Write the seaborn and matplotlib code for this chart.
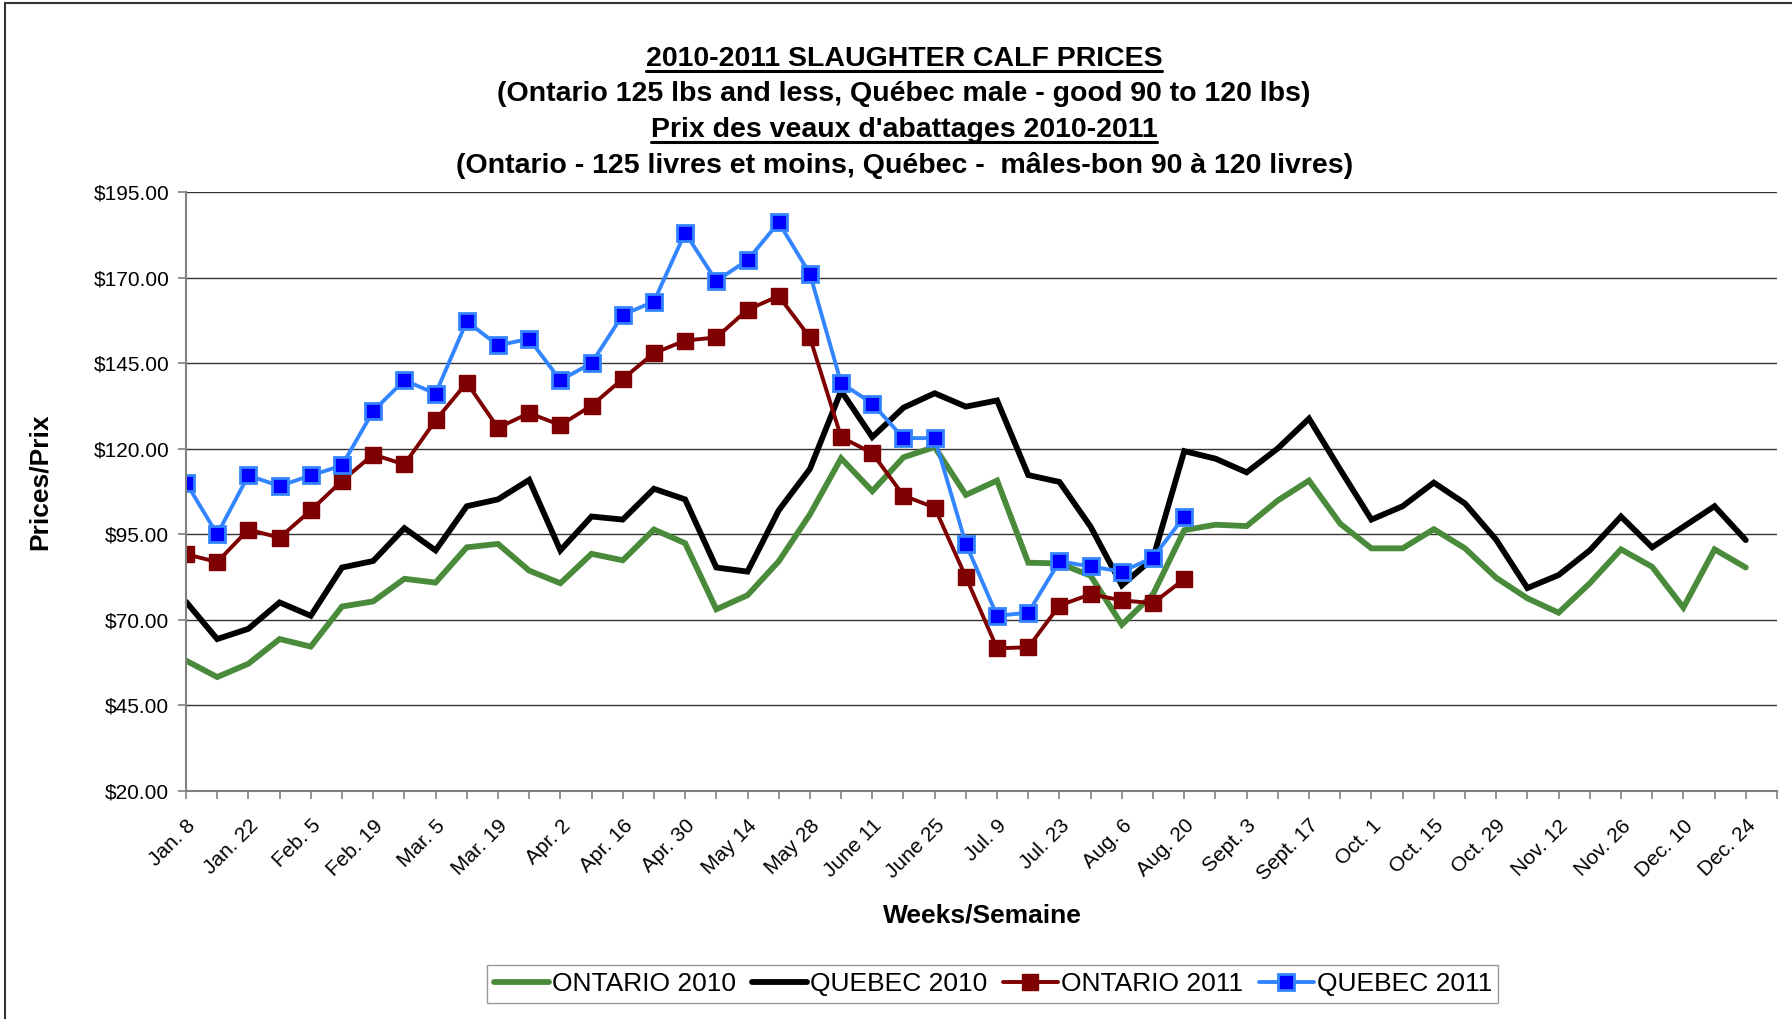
import matplotlib
matplotlib.use("Agg")
import matplotlib.pyplot as plt
from matplotlib.lines import Line2D
import seaborn as sns
import pandas as pd

# Weekly labels (Jan. 8 -> Dec. 24)
weeks = ["Jan. 8", "Jan. 15", "Jan. 22", "Jan. 29", "Feb. 5", "Feb. 12", "Feb. 19", "Feb. 26",
         "Mar. 5", "Mar. 12", "Mar. 19", "Mar. 26", "Apr. 2", "Apr. 9", "Apr. 16", "Apr. 23",
         "Apr. 30", "May 7", "May 14", "May 21", "May 28", "June 4", "June 11", "June 18",
         "June 25", "Jul. 2", "Jul. 9", "Jul. 16", "Jul. 23", "Jul. 30", "Aug. 6", "Aug. 13",
         "Aug. 20", "Aug. 27", "Sept. 3", "Sept. 10", "Sept. 17", "Sept. 24", "Oct. 1", "Oct. 8",
         "Oct. 15", "Oct. 22", "Oct. 29", "Nov. 5", "Nov. 12", "Nov. 19", "Nov. 26", "Dec. 3",
         "Dec. 10", "Dec. 17", "Dec. 24"]

ontario_2010 = [58.1, 53.3, 57.2, 64.4, 62.2, 73.9, 75.4, 82.0, 80.9, 91.2, 92.2, 84.4, 80.7,
                89.3, 87.4, 96.4, 92.4, 73.1, 77.2, 87.1, 100.8, 117.2, 107.6, 117.5, 120.5,
                106.5, 110.7, 86.7, 86.5, 82.9, 68.6, 77.5, 96.2, 97.8, 97.4, 104.9, 110.7,
                98.1, 90.9, 90.9, 96.5, 90.9, 82.3, 76.3, 72.1, 80.7, 90.6, 85.5, 73.6, 90.6, 85.3]

quebec_2010 = [75.3, 64.4, 67.4, 75.1, 71.2, 85.3, 87.2, 96.8, 90.3, 103.2, 105.2, 110.9, 90.3,
               100.2, 99.3, 108.3, 105.2, 85.3, 84.1, 102.0, 114.1, 136.9, 123.4, 132.0, 136.2,
               132.3, 134.1, 112.3, 110.3, 97.2, 80.1, 88.0, 119.3, 117.1, 113.1, 120.1, 128.8,
               113.9, 99.3, 103.2, 110.1, 104.0, 93.4, 79.3, 83.1, 90.3, 100.2, 91.2, 97.2,
               103.2, 93.3]

ontario_2011 = [89.2, 86.9, 96.4, 94.0, 102.0, 110.6, 118.3, 115.4, 128.3, 139.3, 126.1, 130.4,
                126.9, 132.6, 140.4, 147.9, 151.6, 152.5, 160.6, 164.6, 152.5, 123.4, 118.7,
                106.3, 102.8, 82.5, 61.7, 62.0, 74.2, 77.5, 75.7, 74.9, 81.9]

quebec_2011 = [110.1, 95.0, 112.2, 109.1, 112.2, 115.1, 131.0, 140.0, 136.1, 157.2, 150.2, 152.1,
               140.0, 145.0, 159.1, 163.0, 183.1, 169.0, 175.1, 186.1, 171.1, 139.2, 133.2,
               123.1, 123.1, 92.2, 71.2, 72.1, 87.1, 85.6, 84.1, 88.2, 100.2]

price_ticks = [20, 45, 70, 95, 120, 145, 170, 195]

sns.set_theme(style="white")
plt.rcParams["font.family"] = ["Liberation Sans", "DejaVu Sans"]
plt.rcParams["text.color"] = "black"
plt.rcParams["xtick.labelcolor"] = "black"
plt.rcParams["ytick.labelcolor"] = "black"

fig = plt.figure(figsize=(17.92, 10.19), dpi=100)
ax = fig.add_axes([0.1038, 0.2237, 0.8878, 0.5879])

series = [
    ("ONTARIO 2010", ontario_2010, dict(color="#4A8B3B", lw=4.2, marker=None)),
    ("QUEBEC 2010", quebec_2010, dict(color="black", lw=4.2, marker=None)),
    ("ONTARIO 2011", ontario_2011, dict(color="#7F0000", lw=2.8, marker="s", ms=11,
                                        mfc="#7F0000", mec="#7F0000", mew=1)),
    ("QUEBEC 2011", quebec_2011, dict(color="#3385FF", lw=2.8, marker="s", ms=11,
                                      mfc="#0000FF", mec="#3385FF", mew=2)),
]

handles = []
for name, vals, st in series:
    df = pd.DataFrame({"week": range(len(vals)), "price": vals})
    kw = dict(color=st["color"], linewidth=st["lw"], solid_joinstyle="miter")
    if st["marker"]:
        kw.update(marker=st["marker"], markersize=st["ms"], markerfacecolor=st["mfc"],
                  markeredgecolor=st["mec"], markeredgewidth=st["mew"])
    sns.lineplot(data=df, x="week", y="price", ax=ax, label=name, legend=False, **kw)
    h = Line2D([], [], color=st["color"], linewidth=st["lw"], solid_capstyle="round")
    if st["marker"]:
        h.set_marker(st["marker"])
        h.set_markersize(st["ms"])
        h.set_markerfacecolor(st["mfc"])
        h.set_markeredgecolor(st["mec"])
        h.set_markeredgewidth(st["mew"])
    handles.append(h)

ax.set_xlim(0, 51)
ax.set_ylim(20, 195)
ax.set_yticks(price_ticks)
ax.set_yticklabels([f"${v:.2f}" for v in price_ticks], fontsize=15)
ax.set_xticks(range(52))
ax.set_xticklabels([weeks[i] if (i % 2 == 0 and i < len(weeks)) else "" for i in range(52)],
                   rotation=45, ha="right", rotation_mode="anchor", fontsize=15)
ax.tick_params(axis="both", direction="out", length=6, width=1.2, color="#808080",
               labelcolor="black", left=True, bottom=True)
ax.tick_params(axis="y", pad=6)
ax.tick_params(axis="x", pad=12)
ax.yaxis.grid(True, color="#333333", linewidth=1)
ax.set_axisbelow(True)
for s in ["top", "right"]:
    ax.spines[s].set_visible(False)
for s in ["left", "bottom"]:
    ax.spines[s].set_color("#808080")
    ax.spines[s].set_linewidth(1.5)
ax.set_xlabel("")
ax.set_ylabel("")

fig.text(0.022, 0.527, "Prices/Prix", rotation=90, ha="center", va="center",
         fontsize=19, fontweight="bold", color="black")
fig.text(0.548, 0.102, "Weeks/Semaine", ha="center", va="center",
         fontsize=19, fontweight="bold", color="black")

titles = [
    ("2010-2011 SLAUGHTER CALF PRICES", 0.9425, True),
    ("(Ontario 125 lbs and less, Québec male - good 90 to 120 lbs)", 0.908, False),
    ("Prix des veaux d'abattages 2010-2011", 0.8727, True),
    ("(Ontario - 125 livres et moins, Québec -  mâles-bon 90 à 120 livres)", 0.8375, False),
]
title_objs = []
for txt, y, ul in titles:
    t = fig.text(0.5045, y, txt, ha="center", va="center", fontsize=20.5,
                 fontweight="bold", color="black")
    title_objs.append((t, ul))

leg = fig.legend(handles, [s[0] for s in series], loc="center", bbox_to_anchor=(0.554, 0.0343),
                 ncol=4, fontsize=19, frameon=True, fancybox=False, edgecolor="#808080",
                 handlelength=2.1, handletextpad=0.1, columnspacing=0.6, borderpad=0.25,
                 borderaxespad=0)
for txt in leg.get_texts():
    txt.set_color("black")

# underline the title lines
fig.canvas.draw()
r = fig.canvas.get_renderer()
W, H = fig.bbox.width, fig.bbox.height
for t, ul in title_objs:
    if not ul:
        continue
    bb = t.get_window_extent(r)
    y = (bb.y0 + 1) / H
    fig.add_artist(Line2D([bb.x0 / W, bb.x1 / W], [y, y], color="black", linewidth=2.2))

# chart frame (left and top edges visible)
fig.add_artist(Line2D([0.0027, 0.0027], [0, 0.997], color="#333333", linewidth=1.5))
fig.add_artist(Line2D([0.0027, 1], [0.997, 0.997], color="#333333", linewidth=1.5))

fig.savefig("out.png", dpi=100)
